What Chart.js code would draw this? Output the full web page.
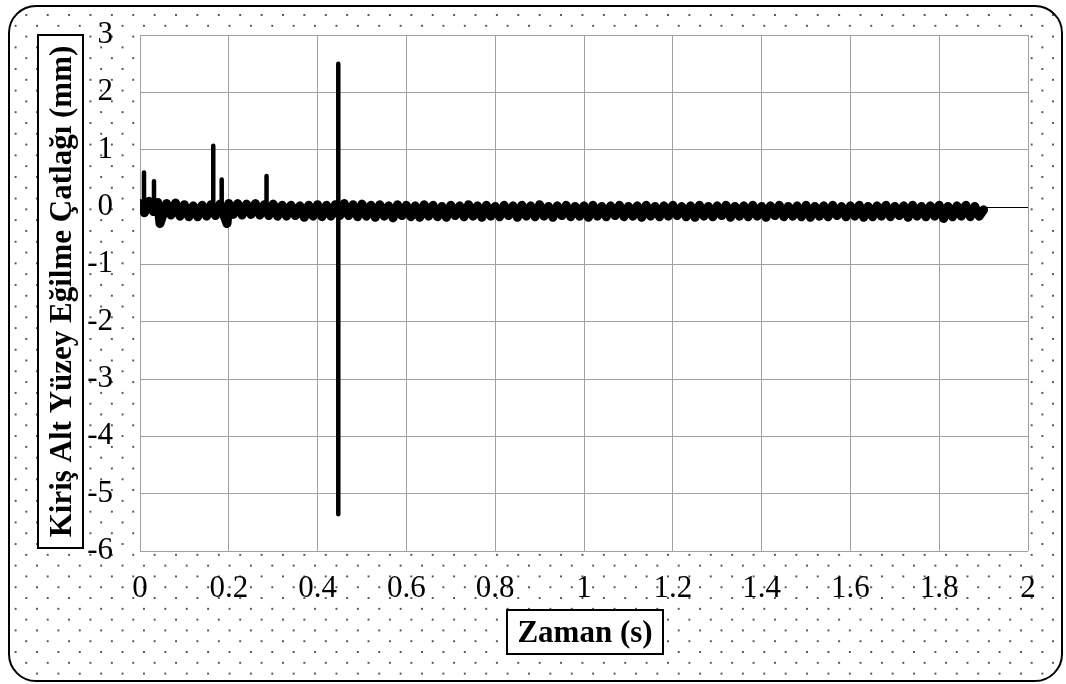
<!DOCTYPE html>
<html>
<head>
<meta charset="utf-8">
<script src="https://cdn.jsdelivr.net/npm/chart.js@4"></script>
<style>
  html, body { margin: 0; padding: 0; background: #fff; }
  #wrap { position: relative; width: 1066px; height: 684px; }
  #frame {
    position: absolute; left: 8px; top: 5px; width: 1055px; height: 677px;
    box-sizing: border-box; border: 2px solid #000; border-radius: 28px;
    background-color: #fff;
    background-image:
      radial-gradient(circle, #555 0.9px, transparent 1.5px),
      radial-gradient(circle, #555 0.9px, transparent 1.5px);
    background-size: 21.4px 21.6px, 21.4px 21.6px;
    background-position: 5.6px -2.8px, 16.3px 8px;
  }
  #chart { position: absolute; left: 0; top: 0; }
</style>
</head>
<body>
<div id="wrap">
  <div id="frame"></div>
  <canvas id="chart" width="1066" height="684"></canvas>
</div>
<script>
// zaman (s) - titreşim bandı
const time = [
  0, 0.01, 0.02, 0.03, 0.04, 0.045, 0.06, 0.07, 0.08, 0.09,
  0.1, 0.11, 0.12, 0.13, 0.14, 0.15, 0.16, 0.17, 0.18, 0.196,
  0.2, 0.21, 0.22, 0.23, 0.24, 0.25, 0.26, 0.27, 0.28, 0.29,
  0.3, 0.31, 0.32, 0.33, 0.34, 0.35, 0.36, 0.37, 0.38, 0.39,
  0.4, 0.41, 0.42, 0.43, 0.44, 0.45,
  0.46, 0.47, 0.48, 0.49, 0.5, 0.51, 0.52, 0.53, 0.54, 0.55,
  0.56, 0.57, 0.58, 0.59, 0.6, 0.61, 0.62, 0.63, 0.64, 0.65,
  0.66, 0.67, 0.68, 0.69, 0.7, 0.71, 0.72, 0.73, 0.74, 0.75,
  0.76, 0.77, 0.78, 0.79, 0.8, 0.81, 0.82, 0.83, 0.84, 0.85,
  0.86, 0.87, 0.88, 0.89, 0.9, 0.91, 0.92, 0.93, 0.94, 0.95,
  0.96, 0.97, 0.98, 0.99, 1, 1.01, 1.02, 1.03, 1.04, 1.05,
  1.06, 1.07, 1.08, 1.09, 1.1, 1.11, 1.12, 1.13, 1.14, 1.15,
  1.16, 1.17, 1.18, 1.19, 1.2, 1.21, 1.22, 1.23, 1.24, 1.25,
  1.26, 1.27, 1.28, 1.29, 1.3, 1.31, 1.32, 1.33, 1.34, 1.35,
  1.36, 1.37, 1.38, 1.39, 1.4, 1.41, 1.42, 1.43, 1.44, 1.45,
  1.46, 1.47, 1.48, 1.49, 1.5, 1.51, 1.52, 1.53, 1.54, 1.55,
  1.56, 1.57, 1.58, 1.59, 1.6, 1.61, 1.62, 1.63, 1.64, 1.65,
  1.66, 1.67, 1.68, 1.69, 1.7, 1.71, 1.72, 1.73, 1.74, 1.75,
  1.76, 1.77, 1.78, 1.79, 1.8, 1.81, 1.82, 1.83, 1.84, 1.85,
  1.86, 1.87, 1.88, 1.89, 1.9
];

// eğilme çatlağı (mm) - titreşim bandı
const deflection = [
  0.06, -0.10, 0.10, -0.08, 0.08, -0.29, 0.06, -0.14, 0.07, -0.16,
  0.04, -0.17, 0.02, -0.17, 0.03, -0.16, 0.04, -0.15, 0.05, -0.29,
  0.06, -0.13, 0.06, -0.14, 0.05, -0.13, 0.06, -0.14, 0.04, -0.15,
  0.05, -0.16, 0.03, -0.16, 0.03, -0.15, 0.02, -0.18, 0.03, -0.16,
  0.04, -0.17, 0.03, -0.16, 0.04, -0.15,
  0.06, -0.15, 0.04, -0.17, 0.05, -0.16, 0.03, -0.18, 0.04, -0.16,
  0.02, -0.19, 0.04, -0.15, 0.03, -0.17, 0.02, -0.18, 0.04, -0.16,
  0.03, -0.17, 0.01, -0.18, 0.03, -0.15, 0.02, -0.17, 0.04, -0.16,
  0.02, -0.18, 0.03, -0.16, 0.01, -0.17, 0.03, -0.15, 0.02, -0.18,
  0.03, -0.16, 0.02, -0.17, 0.04, -0.16, 0.01, -0.18, 0.02, -0.15,
  0.03, -0.17, 0.01, -0.16, 0.02, -0.18, 0.03, -0.16, 0.01, -0.17,
  0.02, -0.15, 0.03, -0.17, 0.01, -0.16, 0.02, -0.18, 0.03, -0.16,
  0.01, -0.17, 0.02, -0.16, 0.03, -0.15, 0.01, -0.17, 0.02, -0.18,
  0.03, -0.16, 0.01, -0.17, 0.02, -0.15, 0.03, -0.18, 0.01, -0.16,
  0.02, -0.17, 0.03, -0.16, 0.01, -0.18, 0.02, -0.15, 0.03, -0.17,
  0.01, -0.16, 0.02, -0.17, 0.03, -0.18, 0.01, -0.16, 0.02, -0.17,
  0.03, -0.15, 0.01, -0.17, 0.02, -0.16, 0.03, -0.18, 0.01, -0.17,
  0.02, -0.16, 0.03, -0.17, 0.01, -0.15, 0.02, -0.18, 0.03, -0.16,
  0.01, -0.17, 0.02, -0.16, 0.03, -0.20, 0.01, -0.17, 0.02, -0.16,
  0.03, -0.17, 0.01, -0.16, -0.05
];

// ani sıçramalar (mm)
const spikeTime = [0.009, 0.0315, 0.165, 0.184, 0.285, 0.4466];
const spikeTop = [0.60, 0.45, 1.07, 0.48, 0.54, 2.50];
const spikeBottom = [-0.05, -0.05, -0.05, -0.05, -0.05, -5.36];

const xTickLabels = ["0", "0.2", "0.4", "0.6", "0.8", "1", "1.2", "1.4", "1.6", "1.8", "2"];
const yTickLabels = ["-6", "-5", "-4", "-3", "-2", "-1", "0", "1", "2", "3"];

const xTitle = "Zaman (s)";
const yTitle = "Kiriş Alt Yüzey Eğilme Çatlağı (mm)";

const serif = "'Liberation Serif', 'Times New Roman', serif";

const spikePoints = [];
spikeTime.forEach((t, i) => {
  spikePoints.push({ x: t, y: spikeBottom[i] }, { x: t, y: spikeTop[i] }, { x: t, y: null });
});

// beyaz çizim alanı + kutulu eksen başlıkları
const excelLook = {
  id: "excelLook",
  beforeDraw(chart) {
    const { ctx, chartArea: a } = chart;
    ctx.save();
    ctx.fillStyle = "#fff";
    ctx.fillRect(a.left, a.top, a.right - a.left, a.bottom - a.top);
    ctx.restore();
  },
  afterDraw(chart) {
    const ctx = chart.ctx;
    const boxed = (text, cx, cy, w, h, rot) => {
      ctx.save();
      ctx.translate(cx, cy);
      ctx.rotate(rot);
      ctx.fillStyle = "#fff";
      ctx.fillRect(-w / 2, -h / 2, w, h);
      ctx.lineWidth = 2;
      ctx.strokeStyle = "#000";
      ctx.strokeRect(-w / 2, -h / 2, w, h);
      ctx.fillStyle = "#000";
      ctx.font = "bold 31px " + serif;
      ctx.textAlign = "center";
      ctx.textBaseline = "middle";
      ctx.fillText(text, 0, 2);
      ctx.restore();
    };
    boxed(xTitle, 585, 632, 156, 44, 0);
    boxed(yTitle, 60.5, 291.5, 513, 45, -Math.PI / 2);
  }
};

new Chart(document.getElementById("chart"), {
  type: "line",
  data: {
    datasets: [
      {
        data: time.map((t, i) => ({ x: t, y: deflection[i] })),
        borderColor: "#000",
        borderWidth: 9,
        borderJoinStyle: "round",
        borderCapStyle: "round",
        pointRadius: 0,
        tension: 0,
        fill: false,
        clip: 0
      },
      {
        data: spikePoints,
        borderColor: "#000",
        borderWidth: 4.5,
        borderJoinStyle: "round",
        borderCapStyle: "round",
        pointRadius: 0,
        tension: 0,
        fill: false,
        spanGaps: false
      }
    ]
  },
  options: {
    responsive: false,
    animation: false,
    layout: { padding: { top: 35, right: 38, left: 0, bottom: 0 } },
    plugins: { legend: { display: false }, tooltip: { enabled: false } },
    scales: {
      x: {
        type: "linear",
        min: 0,
        max: 2,
        afterFit: (s) => { s.height = 133; },
        afterBuildTicks: (s) => { s.ticks = xTickLabels.map(l => ({ value: parseFloat(l) })); },
        ticks: {
          autoSkip: false,
          maxRotation: 0,
          padding: 19,
          color: "#000",
          font: { family: serif, size: 31 },
          callback: (v, i) => xTickLabels[i]
        },
        grid: { color: "#a0a0a0", lineWidth: 1, drawTicks: false },
        border: { display: false }
      },
      y: {
        min: -6,
        max: 3,
        afterFit: (s) => { s.width = 140; s.paddingTop = 0; s.paddingBottom = 0; },
        afterBuildTicks: (s) => { s.ticks = yTickLabels.map(l => ({ value: parseFloat(l) })); },
        ticks: {
          autoSkip: false,
          padding: 27,
          color: "#000",
          font: { family: serif, size: 31 },
          callback: (v, i) => yTickLabels[i]
        },
        grid: {
          color: (c) => (c.tick && c.tick.value === 0 ? "#000" : "#a0a0a0"),
          lineWidth: 1,
          drawTicks: false
        },
        border: { display: false }
      }
    }
  },
  plugins: [excelLook]
});
</script>
</body>
</html>
